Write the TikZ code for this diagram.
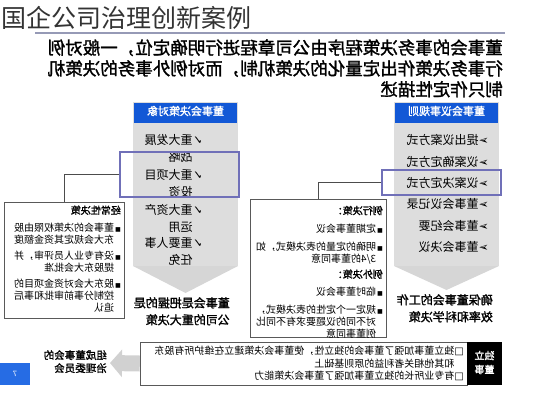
\documentclass[tikz,border=0pt]{standalone}
\usepackage{fontspec}
\usepackage{graphicx}
\usetikzlibrary{arrows.meta}
\newfontfamily\cjk{Noto Sans CJK SC}
\newfontfamily\cjkb[FakeBold=1.5]{Noto Sans CJK SC}
\newfontfamily\sym{DejaVu Sans}
\definecolor{head-blue}{RGB}{18, 88, 214}
\definecolor{col-gray}{RGB}{221, 221, 221}
\definecolor{hl-blue}{RGB}{112, 112, 184}
\definecolor{rule-gray}{RGB}{150, 154, 182}
\definecolor{chev-gray}{RGB}{214, 214, 214}
\definecolor{page-blue}{RGB}{38, 108, 228}
\newcommand{\mir}[1]{\reflectbox{\begin{tabular}{@{}l@{}}#1\end{tabular}}}
\newcommand{\chk}{{\sym ✓}}
\newcommand{\arr}{{\sym ➢}}
\newcommand{\sq}{{\sym\fontsize{6}{6}\selectfont ■\,}}
\newcommand{\cb}{{\sym □}}

\begin{document}
\begin{tikzpicture}[x=1pt, y=-1pt,
    colbox/.style={fill=col-gray, inner sep=0pt},
    headbox/.style={fill=head-blue, text=white, inner sep=0pt, minimum height=20pt, font=\cjkb\fontsize{11}{13}\selectfont},
    item/.style={inner sep=0pt, font=\cjk\fontsize{12}{16.5}\selectfont},
    hlbox/.style={draw=hl-blue, line width=1.2pt, inner sep=0pt},
    box/.style={draw=black!65, fill=white, inner sep=0pt},
    note/.style={inner sep=0pt, font=\cjk\fontsize{10}{12}\selectfont},
    sum/.style={inner sep=0pt, font=\cjkb\fontsize{12}{17}\selectfont},
    link/.style={draw=black!70, line width=0.6pt},
    chev/.style={fill=chev-gray},
    garrow/.style={draw=black!18, line width=16pt, -{Triangle[length=12pt, width=27pt]}}]
\useasboundingbox (0,0) rectangle (533,400);

% title
\node[anchor=west, inner sep=0pt, font=\cjk\fontsize{25}{28}\selectfont, text=black!80] (title) at (1,18) {国企公司治理创新案例};
\draw[rule-gray, line width=1.5pt] (35,33) -- (505,33);

\node[anchor=east, inner sep=0pt, font=\cjkb\fontsize{17.5}{20}\selectfont] (intro) at (503,70.6) {\mir{董事会的事务决策程序由公司章程进行明确定位，一般对例\\行事务决策作出定量化的决策机制，而对例外事务的决策机\\制只作定性描述}};

% left column
\node[colbox, minimum width=105pt, minimum height=164pt] (colL) at (185.5,184) {};
\node[headbox, minimum width=103pt] (headL) at (185.5,112.5) {\mir{董事会决策对象}};
\node[item, anchor=east] (itemL1) at (203,149.5) {\mir{\chk 重大发展\\\phantom{\chk}战略}};
\node[item, anchor=east] (itemL2) at (203,184.5) {\mir{\chk 重大项目\\\phantom{\chk}投资}};
\node[item, anchor=east] (itemL3) at (203,219.5) {\mir{\chk 重大资产\\\phantom{\chk}运用}};
\node[item, anchor=east] (itemL4) at (203,252.5) {\mir{\chk 重要人事\\\phantom{\chk}任免}};
\node[hlbox, minimum width=119pt, minimum height=45pt] (hlL) at (179.5,174.5) {};
\fill[chev] (133,266) -- (238,266) -- (185.5,293) -- cycle;
\node[sum, anchor=east] (sumL) at (230,312.5) {\mir{董事会是把握的是\\公司的重大决策}};

% right column
\node[colbox, minimum width=105pt, minimum height=164pt] (colR) at (446.5,184) {};
\node[headbox, minimum width=103pt] (headR) at (446.5,112.5) {\mir{董事会议事规则}};
\foreach \t [count=\i] in {提出议案方式, 议案确定方式, 议案决定方式, 董事会议记录, 董事会纪要, 董事会决议}
  \node[item, anchor=east] (itemR\i) at (489,{119.9+21.4*\i}) {\mir{\arr\t}};
\node[hlbox, minimum width=119pt, minimum height=25pt] (hlR) at (441.5,182.5) {};
\fill[chev] (394,266) -- (499,266) -- (446.5,290) -- cycle;
\node[sum, anchor=east] (sumR) at (493,309.5) {\mir{确保董事会的工作\\效率和科学决策}};

% decision boxes
\node[box, minimum width=120pt, minimum height=116pt] (boxA) at (64,260) {};
\node[note, anchor=north east] (noteA) at (121,205.4) {\mir{{\cjkb 经常性决策}\\[5pt]
\sq 董事会的决策权限由股\\
\phantom{\sq}东大会规定其资金额度\\[4pt]
\sq 没有专业人员评审，并\\
\phantom{\sq}提股东大会批准\\[4pt]
\sq 股东大会对资金项目的\\
\phantom{\sq}控制分事前审批和事后\\
\phantom{\sq}追认}};

\node[box, minimum width=136pt, minimum height=138pt] (boxB) at (318,268) {};
\node[note, anchor=north east, font=\cjk\fontsize{10}{11.5}\selectfont] (noteB) at (383,205.7) {\mir{{\cjkb 例行决策：}\\[6pt]
\sq 定期董事会议\\[6pt]
\sq 明确的定量的表决模式，如\\
\phantom{\sq}3/4的董事同意\\[4pt]
{\cjkb 例外决策：}\\[6pt]
\sq 临时董事会议\\[6pt]
\sq 规定一个定性的表决模式，\\
\phantom{\sq}对不同的议题要求有不同比\\
\phantom{\sq}例董事同意}};

\draw[link] (hlL.west) -| (boxA.north);
\draw[link] (hlR.west) -| (boxB.north);

% independent directors
\node[box, minimum width=327pt, minimum height=43pt] (noteC) at (303.5,363.5) {};
\node[fill=black, text=white, inner sep=0pt, minimum width=35pt, minimum height=43pt, font=\cjkb\fontsize{10}{14}\selectfont] (indep) at (484.5,363.5) {\mir{独立\\董事}};
\node[note, anchor=east, font=\cjk\fontsize{10}{12.5}\selectfont] (noteCtxt) at (464,364.7) {\mir{\cb 独立董事加强了董事会的独立性，使董事会决策建立在维护所有股东\\\phantom{\cb}和其他相关者利益的原则基础上\\\cb 有专业所长的独立董事加强了董事会决策能力}};
\node[anchor=east, inner sep=0pt, font=\cjkb\fontsize{10.5}{13}\selectfont] (gov) at (107,363) {\mir{组成董事会的\\治理委员会}};
\coordinate (govTip) at (110,363);
\draw[garrow] (noteC.west) -- (govTip);

\node[fill=page-blue, text=white, inner sep=0pt, minimum width=30pt, minimum height=22pt, font=\sffamily\fontsize{8}{9}\selectfont] (page) at (15,374) {\reflectbox{7}};
\end{tikzpicture}
\end{document}
